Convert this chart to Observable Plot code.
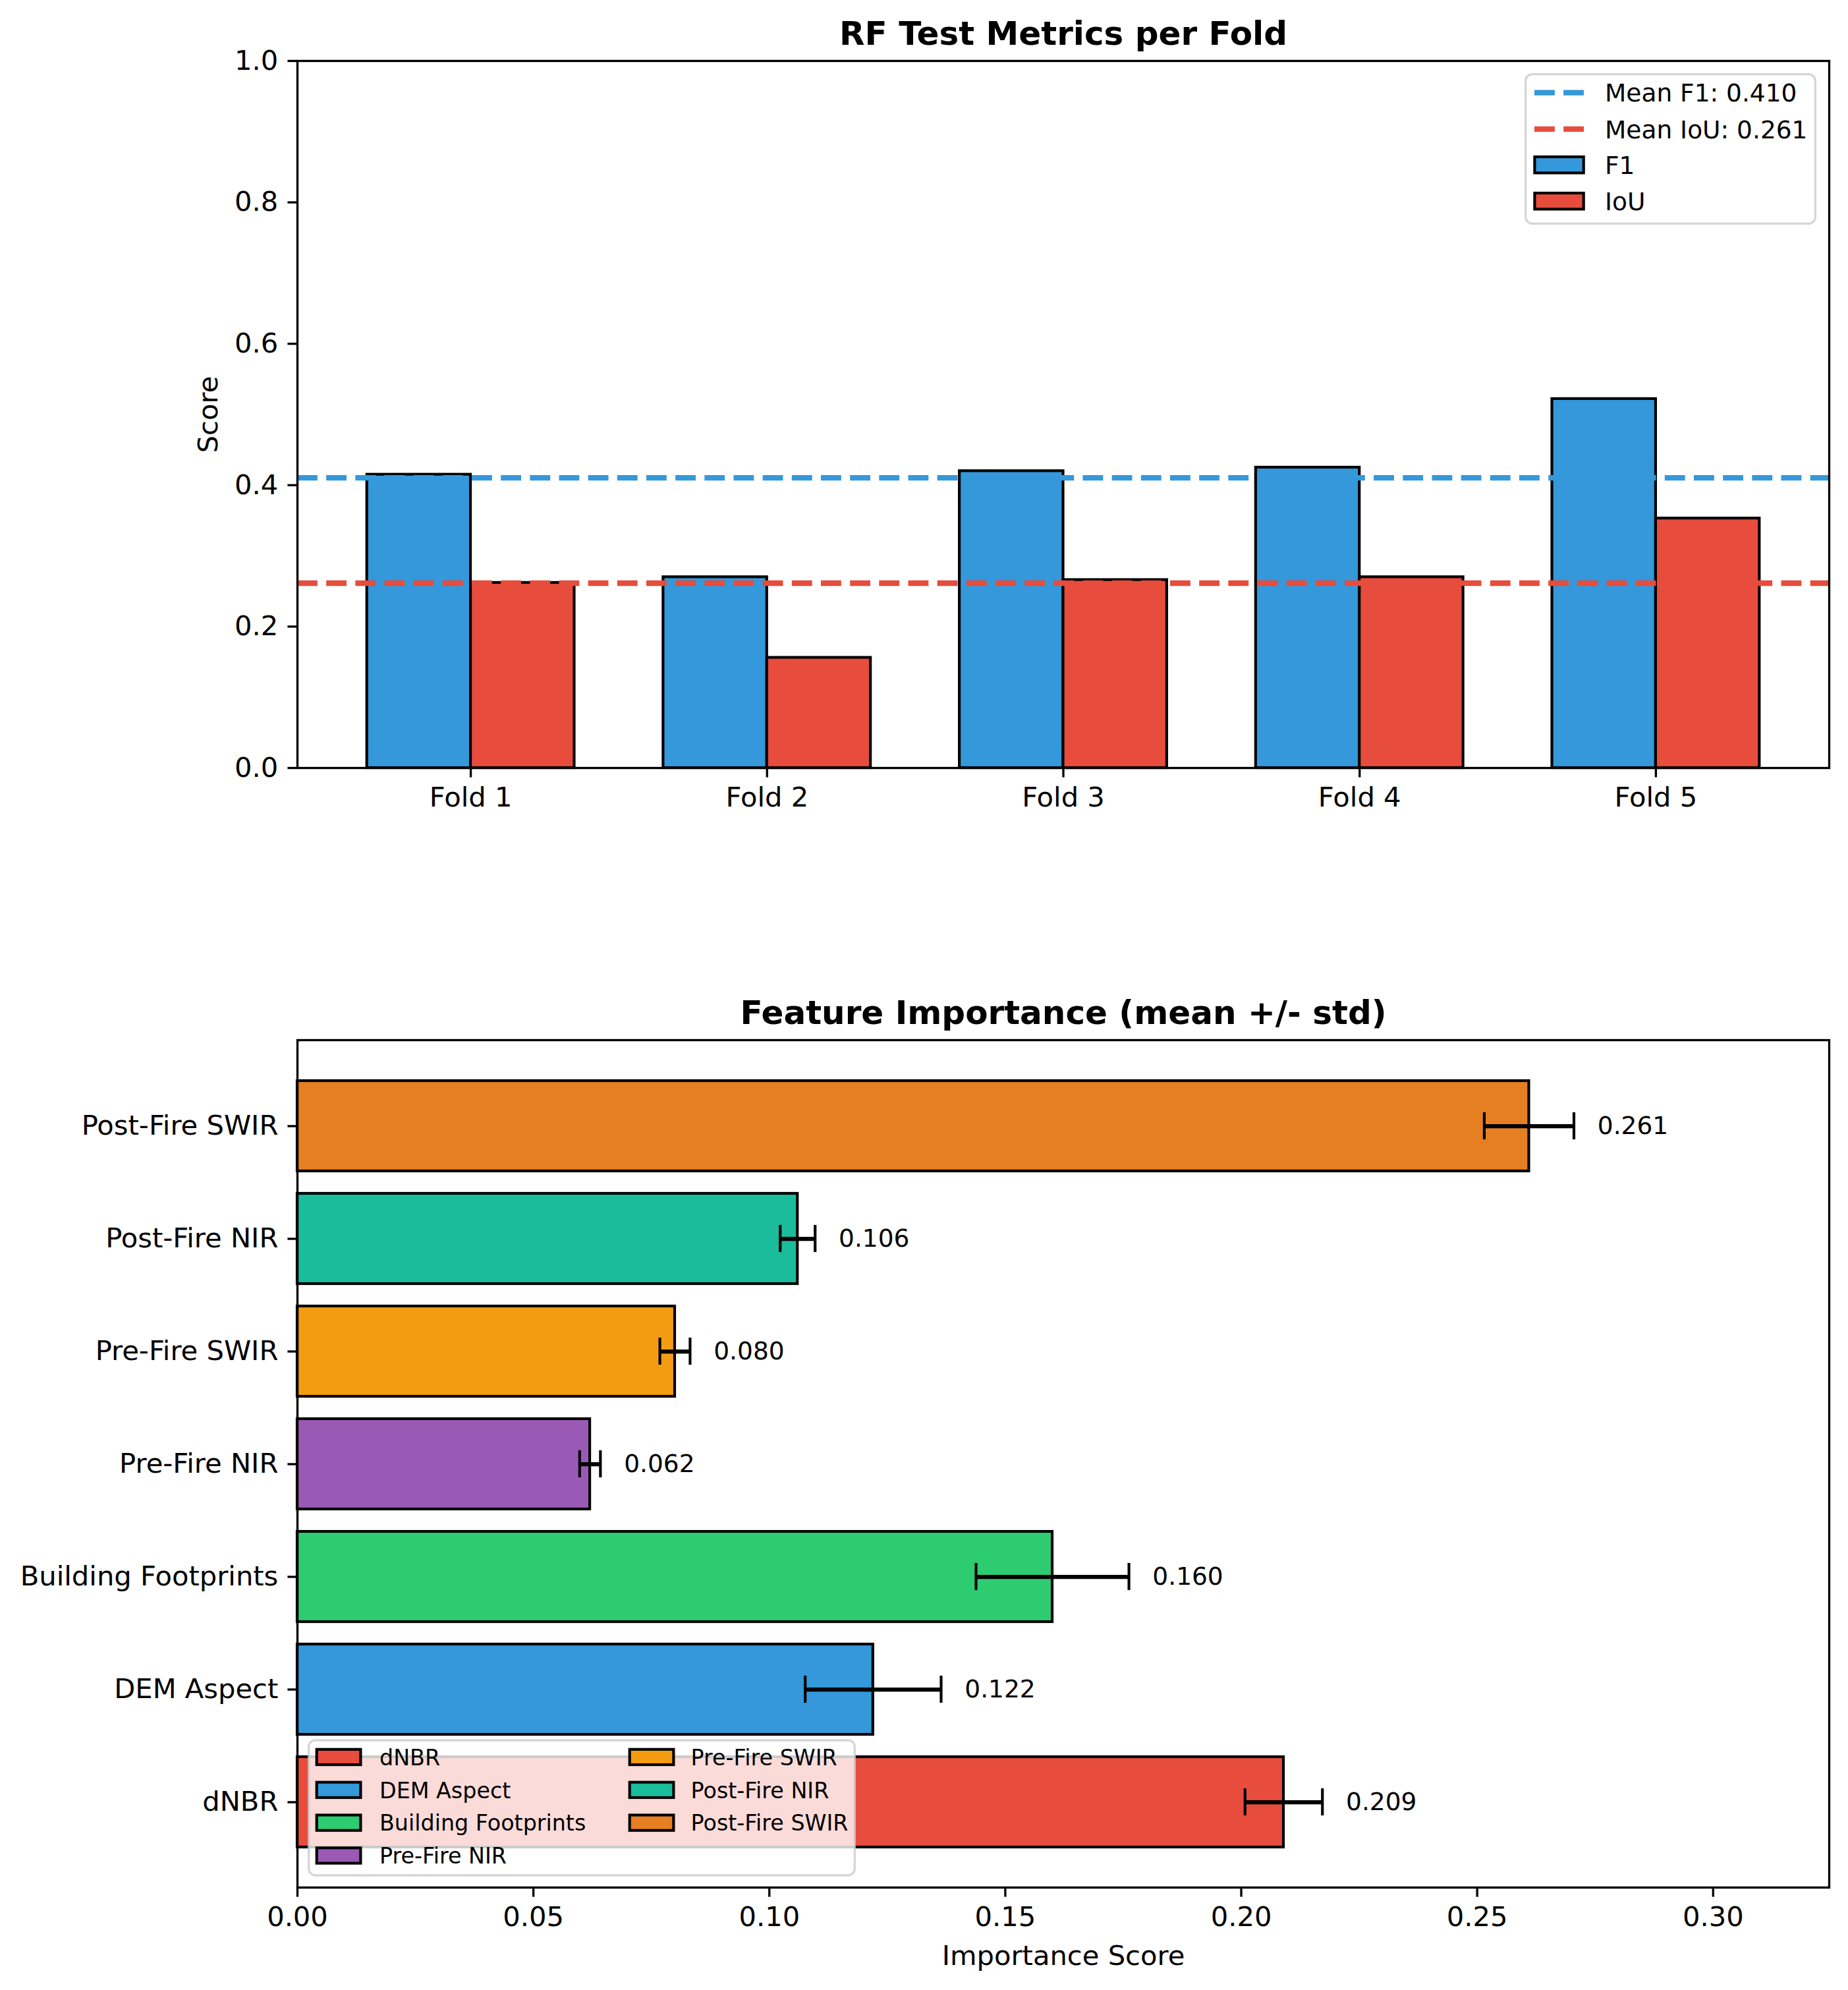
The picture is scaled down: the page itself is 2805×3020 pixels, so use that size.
<!DOCTYPE html>
<html><head><meta charset="utf-8">
<script src="https://cdn.jsdelivr.net/npm/d3@7"></script>
<script src="https://cdn.jsdelivr.net/npm/@observablehq/plot@0.6"></script>
<style>
html,body{margin:0;padding:0;background:#fff;}
#wrap{position:relative;width:2805px;height:3020px;overflow:hidden;font-family:"DejaVu Sans";background:#fff;}
#wrap > svg{display:block;}
#overlay{position:absolute;left:0;top:0;pointer-events:none;}
</style></head><body><div id="wrap"></div>
<script>
// ---------- data ----------
const folds = ["Fold 1", "Fold 2", "Fold 3", "Fold 4", "Fold 5"];
const f1Scores = [0.415, 0.270, 0.420, 0.425, 0.522];
const iouScores = [0.262, 0.156, 0.266, 0.270, 0.353];
const metricNames = ["F1", "IoU"];
const metricColors = ["#3498db", "#e74c3c"];
const scoreTicks = [0, 0.2, 0.4, 0.6, 0.8, 1.0];

const features = ["dNBR", "DEM Aspect", "Building Footprints", "Pre-Fire NIR", "Pre-Fire SWIR", "Post-Fire NIR", "Post-Fire SWIR"];
const importanceMean = [0.209, 0.122, 0.160, 0.062, 0.080, 0.106, 0.261];
const importanceStd = [0.0082, 0.0144, 0.0162, 0.0022, 0.0032, 0.0037, 0.0095];
const featureColors = ["#e74c3c", "#3498db", "#2ecc71", "#9b59b6", "#f39c12", "#1abc9c", "#e67e22"];
const importanceTicks = [0, 0.05, 0.10, 0.15, 0.20, 0.25, 0.30];

// ---------- styling constants ----------
const PT = 300 / 72;
const W = 2805;
const FONT = "DejaVu Sans";
const dash = `${3.7 * 2 * PT},${1.6 * 2 * PT}`;
const wrap = document.getElementById("wrap");

// ---------- top chart ----------
const foldRows = folds.map((f, i) => ({fold: f, i, f1: f1Scores[i], iou: iouScores[i]}));
const meanF1 = d3.mean(f1Scores);
const meanIoU = d3.mean(iouScores);
const barW = 0.35;

const topChart = Plot.plot({
  width: W, height: 1400,
  marginTop: 92, marginBottom: 235, marginLeft: 451, marginRight: 29,
  style: {fontFamily: FONT, background: "white", color: "black", overflow: "visible"},
  x: {domain: [-0.585, 4.585]},
  y: {domain: [0, 1]},
  marks: [
    Plot.rect(foldRows, {x1: d => d.i - barW, x2: d => d.i, y1: 0, y2: d => d.f1, fill: metricColors[0], stroke: "black", strokeWidth: PT}),
    Plot.rect(foldRows, {x1: d => d.i, x2: d => d.i + barW, y1: 0, y2: d => d.iou, fill: metricColors[1], stroke: "black", strokeWidth: PT}),
    Plot.ruleY([meanF1], {stroke: metricColors[0], strokeWidth: 2 * PT, strokeDasharray: dash}),
    Plot.ruleY([meanIoU], {stroke: metricColors[1], strokeWidth: 2 * PT, strokeDasharray: dash}),
    Plot.axisX({ticks: d3.range(folds.length), tickFormat: i => folds[i], tickSize: 3.5 * PT, tickPadding: 3.5 * PT, fontSize: 10 * PT, strokeWidth: 0.8 * PT, label: null}),
    Plot.axisY({ticks: scoreTicks, tickFormat: d3.format(".1f"), tickSize: 3.5 * PT, tickPadding: 3.5 * PT, fontSize: 10 * PT, strokeWidth: 0.8 * PT, label: null}),
    Plot.text(["Score"], {text: d => d, frameAnchor: "left", rotate: -90, dx: -134.5, textAnchor: "middle", lineAnchor: "middle", fontSize: 10 * PT}),
    Plot.text(["RF Test Metrics per Fold"], {text: d => d, frameAnchor: "top", dy: -41, lineAnchor: "middle", textAnchor: "middle", fontSize: 12 * PT, fontWeight: "bold"}),
    Plot.frame({stroke: "black", strokeWidth: 0.8 * PT})
  ]
});
wrap.appendChild(topChart);

// ---------- bottom chart ----------
const featRows = features.map((f, i) => ({feature: f, mean: importanceMean[i], std: importanceStd[i], color: featureColors[i]}));
const xMax = d3.max(featRows, d => d.mean + d.std) * 1.2;
const bandH = 171.9 * 0.8;
const capInset = (bandH - 2 * 5 * PT) / 2;

const bottomChart = Plot.plot({
  width: W, height: 1620,
  marginTop: 178, marginBottom: 156, marginLeft: 451, marginRight: 29,
  style: {fontFamily: FONT, background: "white", color: "black", overflow: "visible"},
  x: {domain: [0, xMax]},
  y: {type: "band", domain: features.slice().reverse(), paddingInner: 0.2, paddingOuter: 0.34},
  color: {type: "identity"},
  marks: [
    Plot.barX(featRows, {x1: 0, x2: "mean", y: "feature", fill: "color", stroke: "black", strokeWidth: PT}),
    Plot.link(featRows, {x1: d => d.mean - d.std, x2: d => d.mean + d.std, y1: "feature", y2: "feature", stroke: "black", strokeWidth: 1.5 * PT}),
    Plot.tickX(featRows, {x: d => d.mean - d.std, y: "feature", stroke: "black", strokeWidth: PT, insetTop: capInset, insetBottom: capInset}),
    Plot.tickX(featRows, {x: d => d.mean + d.std, y: "feature", stroke: "black", strokeWidth: PT, insetTop: capInset, insetBottom: capInset}),
    Plot.text(featRows, {x: d => d.mean + d.std + 0.005, y: "feature", text: d => d.mean.toFixed(3), textAnchor: "start", fontSize: 9 * PT, fill: "black"}),
    Plot.axisX({ticks: importanceTicks, tickFormat: d3.format(".2f"), tickSize: 3.5 * PT, tickPadding: 3.5 * PT, fontSize: 10 * PT, strokeWidth: 0.8 * PT, label: null}),
    Plot.axisY({tickSize: 3.5 * PT, tickPadding: 3.5 * PT, fontSize: 10 * PT, strokeWidth: 0.8 * PT, label: null}),
    Plot.text(["Importance Score"], {text: d => d, frameAnchor: "bottom", dy: 104, lineAnchor: "middle", textAnchor: "middle", fontSize: 10 * PT}),
    Plot.text(["Feature Importance (mean +/- std)"], {text: d => d, frameAnchor: "top", dy: -41, lineAnchor: "middle", textAnchor: "middle", fontSize: 12 * PT, fontWeight: "bold"}),
    Plot.frame({stroke: "black", strokeWidth: 0.8 * PT})
  ]
});
wrap.appendChild(bottomChart);

// ---------- legends (overlay) ----------
const ov = d3.select(wrap).append("svg").attr("id", "overlay")
  .attr("width", W).attr("height", 3020).attr("font-family", FONT);

// top legend
{
  const g = ov.append("g");
  g.append("rect").attr("x", 2314 + 1.7).attr("y", 111 + 1.7).attr("width", 443 - 3.4).attr("height", 230 - 3.4)
    .attr("rx", 10).attr("fill", "white").attr("fill-opacity", 0.8)
    .attr("stroke", "#cccccc").attr("stroke-opacity", 0.8).attr("stroke-width", 0.8 * PT);
  const rows = [140.7, 195.9, 250.2, 305.2];
  const fs = 9 * PT;
  const entries = [
    {type: "line", color: metricColors[0], label: `Mean F1: ${meanF1.toFixed(3)}`},
    {type: "line", color: metricColors[1], label: `Mean IoU: ${meanIoU.toFixed(3)}`},
    {type: "patch", color: metricColors[0], label: metricNames[0]},
    {type: "patch", color: metricColors[1], label: metricNames[1]}
  ];
  entries.forEach((e, k) => {
    const y = rows[k];
    if (e.type === "line") {
      g.append("line").attr("x1", 2329).attr("x2", 2404).attr("y1", y).attr("y2", y)
        .attr("stroke", e.color).attr("stroke-width", 2 * PT).attr("stroke-dasharray", dash);
    } else {
      g.append("rect").attr("x", 2329.4).attr("y", y - 12.2).attr("width", 74.3).attr("height", 24.4)
        .attr("fill", e.color).attr("stroke", "black").attr("stroke-width", PT);
    }
    g.append("text").attr("x", 2436).attr("y", y + 0.365 * fs).attr("font-size", fs).attr("fill", "black").text(e.label);
  });
}

// bottom legend
{
  const g = ov.append("g");
  g.append("rect").attr("x", 467 + 1.7).attr("y", 2639.3 + 1.7).attr("width", 832 - 3.4).attr("height", 208.4 - 3.4)
    .attr("rx", 10).attr("fill", "white").attr("fill-opacity", 0.8)
    .attr("stroke", "#cccccc").attr("stroke-opacity", 0.8).attr("stroke-width", 0.8 * PT);
  const rows = [2666.5, 2716.4, 2766.2, 2816.0];
  const handleX = [479, 954];
  const textX = [576, 1048.6];
  const fs = 8 * PT;
  features.forEach((f, k) => {
    const col = k < 4 ? 0 : 1;
    const row = k < 4 ? k : k - 4;
    const y = rows[row];
    g.append("rect").attr("x", handleX[col] + 1.7).attr("y", y - 11.7).attr("width", 66.7).attr("height", 23.3)
      .attr("fill", featureColors[k]).attr("stroke", "black").attr("stroke-width", PT);
    g.append("text").attr("x", textX[col]).attr("y", y + 0.365 * fs).attr("font-size", fs).attr("fill", "black").text(f);
  });
}
</script></body></html>
